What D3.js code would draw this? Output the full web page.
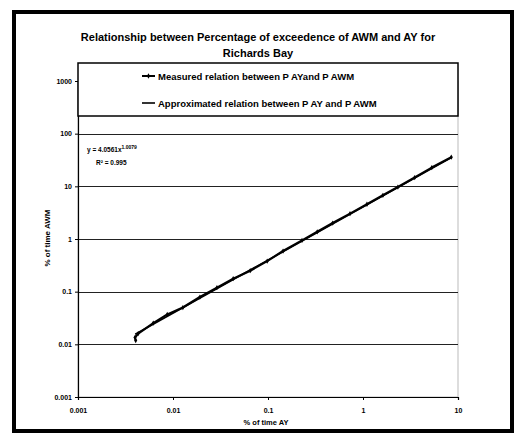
<!DOCTYPE html>
<html>
<head>
<meta charset="utf-8">
<script src="https://cdn.jsdelivr.net/npm/d3@7/dist/d3.min.js"></script>
<style>
  html, body { margin: 0; padding: 0; background: #fff; }
  svg { display: block; }
  text { font-family: "Liberation Sans", Arial, sans-serif; font-weight: bold; fill: #000; }
</style>
</head>
<body>
<svg id="chart" width="516" height="436"></svg>
<script>
// Measured exceedence percentages (% of time AY vs % of time AWM)
const measuredAY  = [0.00405, 0.00398, 0.0043, 0.0062, 0.0087, 0.0127, 0.0192, 0.029, 0.043, 0.065, 0.098, 0.144, 0.228, 0.33, 0.48, 0.73, 1.10, 1.62, 2.33, 3.5, 5.3, 8.5];
const measuredAWM = [0.0118, 0.0135, 0.016, 0.0253, 0.037, 0.050, 0.0791, 0.119, 0.176, 0.25, 0.38, 0.591, 0.94, 1.37, 2.01, 3.03, 4.57, 6.75, 9.70, 14.7, 22.7, 35.8];

// Power-law trendline end points: y = 4.0561x^1.0079
const fitAY  = [0.004, 8.6];
const fitAWM = [0.0155, 35.5];

const xTicks = [0.001, 0.01, 0.1, 1, 10];
const xTickLabels = ["0.001", "0.01", "0.1", "1", "10"];
const yTicks = [0.001, 0.01, 0.1, 1, 10, 100, 1000];
const yTickLabels = ["0.001", "0.01", "0.1", "1", "10", "100", "1000"];

const titleLines = ["Relationship between Percentage of exceedence of AWM and  AY for", "Richards Bay"];
const seriesNames = ["Measured relation between P AYand P AWM", "Approximated relation between P AY and P AWM"];

const svg = d3.select("#chart");

// outer frame
svg.append("rect")
  .attr("x", 14).attr("y", 12).attr("width", 498).attr("height", 419)
  .attr("fill", "none").attr("stroke", "#000").attr("stroke-width", 4);

const plot = { left: 78, right: 458, top: 81, bottom: 397 };

const x = d3.scaleLog().domain([0.001, 10]).range([plot.left, plot.right]);
const y = d3.scaleLog().domain([0.001, 1000]).range([plot.bottom, plot.top]);

// plot area border
svg.append("rect")
  .attr("x", plot.left).attr("y", plot.top)
  .attr("width", plot.right - plot.left).attr("height", plot.bottom - plot.top)
  .attr("fill", "#fff").attr("stroke", "#bbb").attr("stroke-width", 1);

// horizontal gridlines at each decade
svg.append("g").selectAll("line")
  .data(yTicks.slice(1))
  .join("line")
  .attr("x1", plot.left).attr("x2", plot.right)
  .attr("y1", d => Math.round(y(d)) + 0.5).attr("y2", d => Math.round(y(d)) + 0.5)
  .attr("stroke", "#222").attr("stroke-width", 1);

// axes
const xAxis = d3.axisBottom(x).tickValues(xTicks)
  .tickFormat((d, i) => xTickLabels[i]).tickSize(3).tickPadding(8);
const yAxis = d3.axisLeft(y).tickValues(yTicks)
  .tickFormat((d, i) => yTickLabels[i]).tickSize(3).tickPadding(3);

const gx = svg.append("g").attr("transform", `translate(0,${plot.bottom})`).call(xAxis);
const gy = svg.append("g").attr("transform", `translate(${plot.left},0)`).call(yAxis);
[gx, gy].forEach(g => {
  g.selectAll("path.domain").attr("stroke", "#000").attr("stroke-width", 1.2);
  g.selectAll(".tick line").attr("stroke", "#000");
  g.selectAll("text").style("font-family", "'Liberation Sans', Arial, sans-serif")
    .style("font-weight", "bold").style("font-size", "7px").attr("fill", "#000");
});

// axis titles
svg.append("text")
  .attr("x", 266).attr("y", 425).attr("text-anchor", "middle")
  .style("font-size", "7.5px").text("% of time AY");
svg.append("text")
  .attr("transform", "translate(50,238) rotate(-90)").attr("text-anchor", "middle")
  .style("font-size", "8px").text("% of time AWM");

// series
const line = d3.line().x(d => x(d[0])).y(d => y(d[1]));
const fitPts = fitAY.map((v, i) => [v, fitAWM[i]]);
const measPts = measuredAY.map((v, i) => [v, measuredAWM[i]]);

svg.append("path").datum(fitPts).attr("d", line)
  .attr("fill", "none").attr("stroke", "#000").attr("stroke-width", 1.6);
svg.append("path").datum(measPts).attr("d", line)
  .attr("fill", "none").attr("stroke", "#000").attr("stroke-width", 2.2)
  .attr("stroke-linejoin", "round");

const diamond = d3.symbol().type(d3.symbolDiamond).size(8);
svg.append("g").selectAll("path")
  .data(measPts)
  .join("path")
  .attr("transform", d => `translate(${x(d[0])},${y(d[1])})`)
  .attr("d", diamond).attr("fill", "#000");

// trendline equation
const eq = svg.append("text").attr("x", 87).attr("y", 152).style("font-size", "6.5px");
eq.append("tspan").text("y = 4.0561x");
eq.append("tspan").attr("dy", -3).style("font-size", "5px").text("1.0079");
svg.append("text").attr("x", 96).attr("y", 165).style("font-size", "6.5px")
  .text("R² = 0.995");

// title
svg.append("g").selectAll("text")
  .data(titleLines)
  .join("text")
  .attr("x", 258).attr("y", (d, i) => 41 + i * 16)
  .attr("text-anchor", "middle").style("font-size", "11px")
  .text(d => d);

// legend
const lg = svg.append("g");
lg.append("rect")
  .attr("x", 78).attr("y", 63).attr("width", 380).attr("height", 53)
  .attr("fill", "#fff").attr("stroke", "#000").attr("stroke-width", 1.5);
const lgRows = lg.selectAll("g.row").data(seriesNames).join("g")
  .attr("class", "row")
  .attr("transform", (d, i) => `translate(0,${76 + i * 27})`);
lgRows.append("line")
  .attr("x1", 142).attr("x2", 155).attr("y1", 0).attr("y2", 0)
  .attr("stroke", "#000").attr("stroke-width", (d, i) => i === 0 ? 2 : 1.6);
lgRows.filter((d, i) => i === 0).append("path")
  .attr("transform", "translate(148.5,0)").attr("d", diamond).attr("fill", "#000");
lgRows.append("text")
  .attr("x", 158).attr("y", 3.5).style("font-size", "9.5px")
  .text(d => d);
</script>
</body>
</html>
